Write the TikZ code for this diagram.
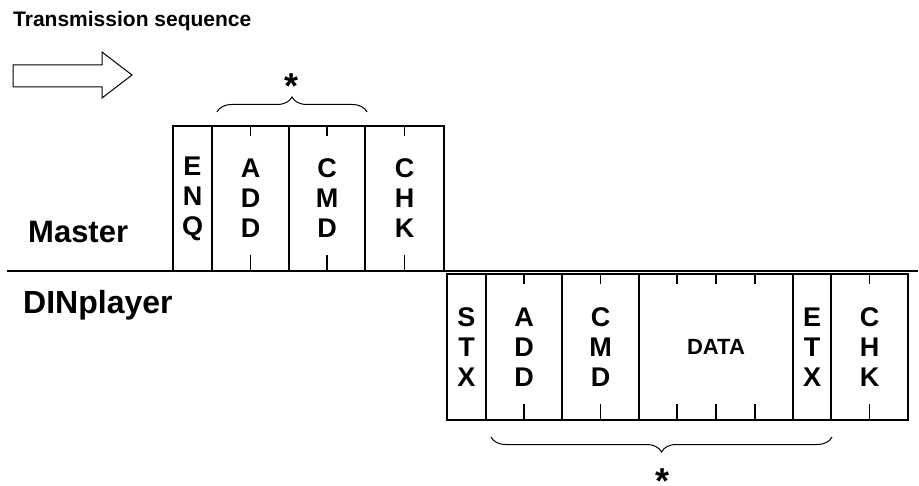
\documentclass[tikz,border=0pt]{standalone}
\usepackage{fontspec}
\setmainfont{Liberation Sans}
\usetikzlibrary{decorations.pathreplacing,calc}

\tikzset{
  cell/.style={draw, line width=1.5pt, inner sep=0pt, align=center,
    font=\bfseries\fontsize{27}{30}\selectfont},
  mcell/.style={cell, minimum height=145pt},
  dcell/.style={cell, minimum height=146pt},
  tick/.style={line width=1.5pt},
  curly/.style={decorate, decoration={brace, amplitude=15pt}, line width=1pt},
  star/.style={anchor=north, inner sep=0pt, font=\bfseries\fontsize{36}{40}\selectfont}
}

\begin{document}
\begin{tikzpicture}[x=1pt,y=-1pt]
\useasboundingbox (0,0) rectangle (919,486);

\node[anchor=base west, inner sep=0pt, font=\bfseries\fontsize{21}{25}\selectfont] (title) at (13,27) {Transmission sequence};
\draw[line width=1pt] (13,65) -- (102,65) -- (102,52) -- (132,75) -- (102,98) -- (102,87) -- (13,87) -- cycle;

% master frame
\node[mcell, minimum width=39pt] (enq) at (192.5,198.5) {E\\N\\Q};
\node[mcell, minimum width=77pt] (madd) at (250.5,198.5) {A\\D\\D};
\node[mcell, minimum width=76pt] (mcmd) at (327,198.5) {C\\M\\D};
\node[mcell, minimum width=79pt] (mchk) at (404.5,198.5) {C\\H\\K};

% dinplayer frame
\node[dcell, minimum width=39pt] (stx) at (466.5,347) {S\\T\\X};
\node[dcell, minimum width=76pt] (dadd) at (524,347) {A\\D\\D};
\node[dcell, minimum width=77pt] (dcmd) at (600.5,347) {C\\M\\D};
\node[dcell, minimum width=154pt, font=\bfseries\fontsize{22}{26}\selectfont] (data) at (716,347) {DATA};
\node[dcell, minimum width=38pt] (etx) at (812,347) {E\\T\\X};
\node[dcell, minimum width=77pt] (dchk) at (869.5,347) {C\\H\\K};

\draw[line width=1.5pt] (7,271) -- (918,271);

\foreach \c in {madd,mcmd,mchk,dadd,dcmd,dchk} {
  \draw[tick] (\c.north) -- ++(0,11);
  \draw[tick] (\c.south) -- ++(0,-17);
}
\foreach \f in {0.25,0.5,0.75} {
  \draw[tick] ($(data.north west)!\f!(data.north east)$) -- ++(0,11);
  \draw[tick] ($(data.south west)!\f!(data.south east)$) -- ++(0,-17);
}

\node[anchor=base west, inner sep=0pt, font=\bfseries\fontsize{31}{36}\selectfont] (master) at (28,243) {Master};
\node[anchor=base west, inner sep=0pt, font=\bfseries\fontsize{32}{36}\selectfont] (din) at (23,314) {DINplayer};

% braces
\coordinate (mb1) at (217,112);
\coordinate (mb2) at (367,112);
\draw[curly] (mb1) -- (mb2);
\node[star] (mstar) at (292,74) {*};

\coordinate (db1) at (832,437);
\coordinate (db2) at (491,437);
\draw[curly] (db1) -- (db2);
\node[star] (dstar) at (662,469) {*};

\end{tikzpicture}
\end{document}
